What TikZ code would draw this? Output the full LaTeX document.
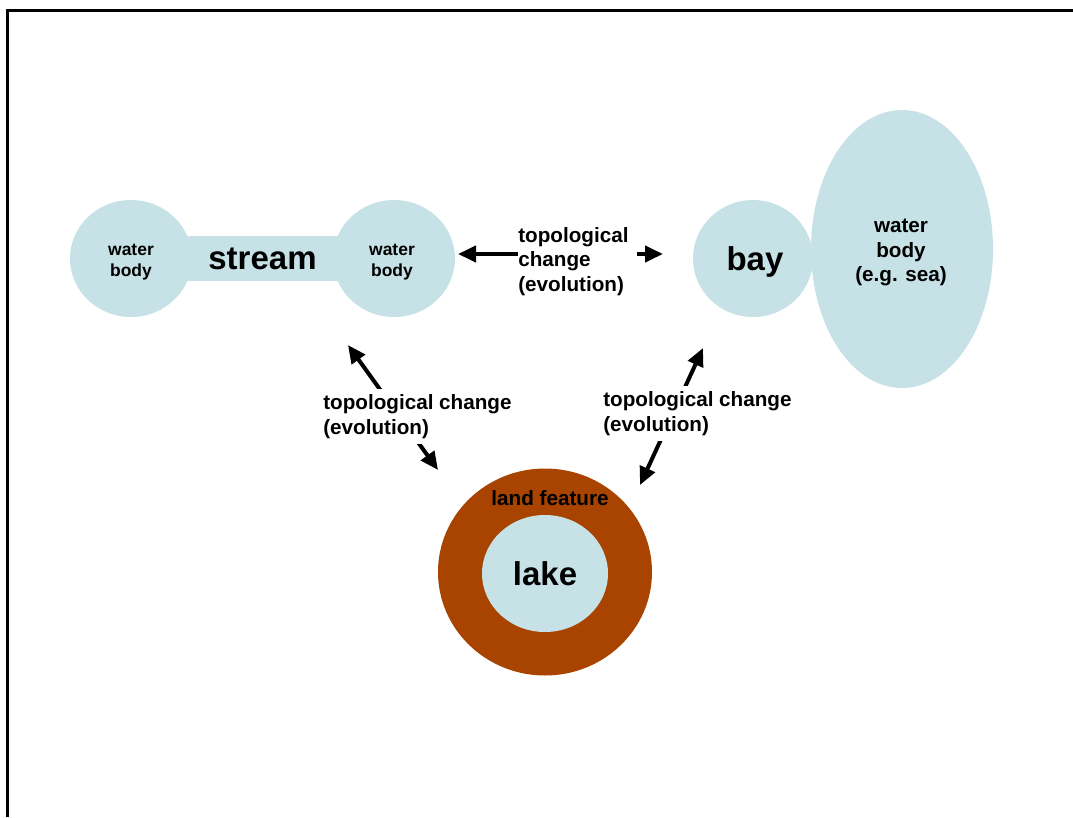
\documentclass[tikz,border=0pt]{standalone}
\usepackage{fontspec}
\setmainfont{Liberation Sans}
\usetikzlibrary{arrows.meta,shapes.geometric}
\definecolor{water}{RGB}{198,226,230}
\definecolor{land}{RGB}{168,67,0}
\begin{document}
\begin{tikzpicture}[x=0.75pt,y=-0.75pt,
  waterbody/.style={ellipse, fill=water, inner sep=0pt},
  big/.style={font=\fontsize{24.75pt}{28pt}\selectfont\bfseries},
  med/.style={font=\fontsize{15.5pt}{18.6pt}\selectfont\bfseries},
  small/.style={font=\fontsize{13.1pt}{15.75pt}\selectfont\bfseries},
  evo/.style={med, fill=white, inner xsep=0pt, inner ysep=3.75pt, align=left, anchor=north west},
  evoarrow/.style={line width=3pt, {Triangle[length=13.5pt,width=12pt]}-{Triangle[length=13.5pt,width=12pt]}},
  frameline/.style={line width=2.25pt}]
\useasboundingbox (0,0) rectangle (1073,817);
\draw[frameline] (7.5,817) -- (7.5,10.5) -- (1073,10.5);

% stream dumbbell
\node (bar) [fill=water, inner sep=0pt, minimum width=116.25pt, minimum height=33.75pt, big] at (262.5,258.5) {stream};
\node (wb1) [waterbody, minimum width=91.5pt, minimum height=87.75pt] at (131,258.5) {};
\node (wb2) [waterbody, minimum width=91.5pt, minimum height=87.75pt] at (394,258.5) {};
\node (wb1t) [small, align=center] at (131,262) {water\\body};
\node (wb2t) [small, align=center] at (392,262) {water\\body};

% bay and sea
\node (bay) [waterbody, minimum width=90pt, minimum height=87.75pt] at (753,258.5) {};
\node (sea) [waterbody, minimum width=136.5pt, minimum height=208.5pt] at (902,249) {};
\node (bayt) [big] at (755,261.5) {bay};
\node (seat) [med, align=center] at (901,252.5) {water\\body\\(e.g. sea)};

% lake
\node (landf) [ellipse, fill=land, inner sep=0pt, minimum width=160.5pt, minimum height=155.25pt] at (545,572) {};
\node (lake) [waterbody, minimum width=94.5pt, minimum height=87.75pt, big] at (545,573.5) {lake};
\node (landlbl) [med, anchor=base] at (550,505.5) {land feature};

% arrows
\coordinate (tA) at (458,254);
\coordinate (tB) at (663,254);
\draw[evoarrow] (tA) -- (tB);
\node (evoT) [evo, text width=89.25pt] at (518,221.9) {topological\\change\\(evolution)};

\coordinate (lA) at (348,345);
\coordinate (lB) at (438,470);
\draw[evoarrow] (lA) -- (lB);
\node (evoL) [evo] at (323,389.2) {topological change\\(evolution)};

\coordinate (rA) at (703,348);
\coordinate (rB) at (640,485);
\draw[evoarrow] (rA) -- (rB);
\node (evoR) [evo] at (603,386.2) {topological change\\(evolution)};
\end{tikzpicture}
\end{document}
